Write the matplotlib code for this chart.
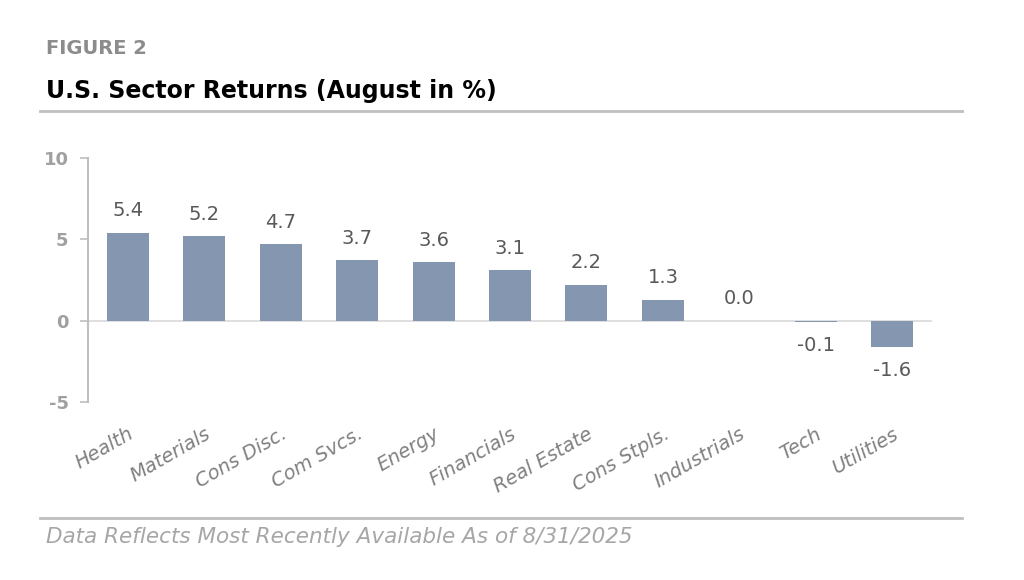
import numpy as np
import matplotlib as mpl
from matplotlib import pyplot as plt

sectors = ["Health", "Materials", "Cons Disc.", "Com Svcs.", "Energy", "Financials",
           "Real Estate", "Cons Stpls.", "Industrials", "Tech", "Utilities"]
returns = [5.4, 5.2, 4.7, 3.7, 3.6, 3.1, 2.2, 1.3, 0.0, -0.1, -1.6]
y_ticks = [-5, 0, 5, 10]

bar_color = "#8496B0"
rule_color = "#BFBFBF"

plt.rcParams["font.family"] = ["DejaVu Sans"]
fig = plt.figure(figsize=(10.24, 5.8), dpi=100)
W, H = 1024, 580


def fx(px):
    return px / W


def fy(py):
    return 1 - py / H


ax = fig.add_axes([fx(88), fy(402), fx(932) - fx(88), fy(158) - fy(402)])
x = np.arange(len(sectors))
ax.bar(x, returns, width=0.55, color=bar_color, zorder=2)
ax.axhline(0, color="#D9D9D9", lw=1.2, zorder=1)

for xi, v in zip(x, returns):
    if v < 0:
        ax.annotate(f"{v:.1f}", (xi, v), xytext=(0, -10), textcoords="offset points",
                    ha="center", va="top", fontsize=14, color="#595959")
    else:
        ax.annotate(f"{v:.1f}", (xi, v), xytext=(0, 9), textcoords="offset points",
                    ha="center", va="bottom", fontsize=14, color="#595959")

ax.set_xlim(-0.52, len(sectors) - 0.48)
ax.set_ylim(-5, 10)
ax.set_yticks(y_ticks)
ax.set_yticklabels([str(t) for t in y_ticks], fontsize=13, fontweight="bold", color="#A0A0A0")
ax.tick_params(axis="y", direction="out", length=6, width=1.2, color=rule_color, pad=8)
ax.set_xticks(x)
ax.set_xticklabels(sectors, rotation=30, ha="right", va="top", rotation_mode="anchor",
                   fontsize=14, style="italic", color="#808080")
ax.tick_params(axis="x", length=0, pad=16)
for side in ["top", "right", "bottom"]:
    ax.spines[side].set_visible(False)
ax.spines["left"].set_color(rule_color)
ax.spines["left"].set_linewidth(1.5)

fig.text(fx(46), fy(48), "FIGURE 2", fontsize=14, fontweight="bold", color="#8C8C8C",
         ha="left", va="center")
fig.text(fx(46), fy(91), "U.S. Sector Returns (August in %)", fontsize=17, fontweight="bold",
         color="black", ha="left", va="center")
fig.add_artist(mpl.lines.Line2D([fx(40), fx(962)], [fy(111), fy(111)], color=rule_color, lw=2))
fig.add_artist(mpl.lines.Line2D([fx(40), fx(962)], [fy(518), fy(518)], color=rule_color, lw=2))
fig.text(fx(46), fy(537), "Data Reflects Most Recently Available As of 8/31/2025", fontsize=15.5,
         style="italic", color="#A6A6A6", ha="left", va="center")

plt.savefig("out.png", dpi=100)
plt.close()
